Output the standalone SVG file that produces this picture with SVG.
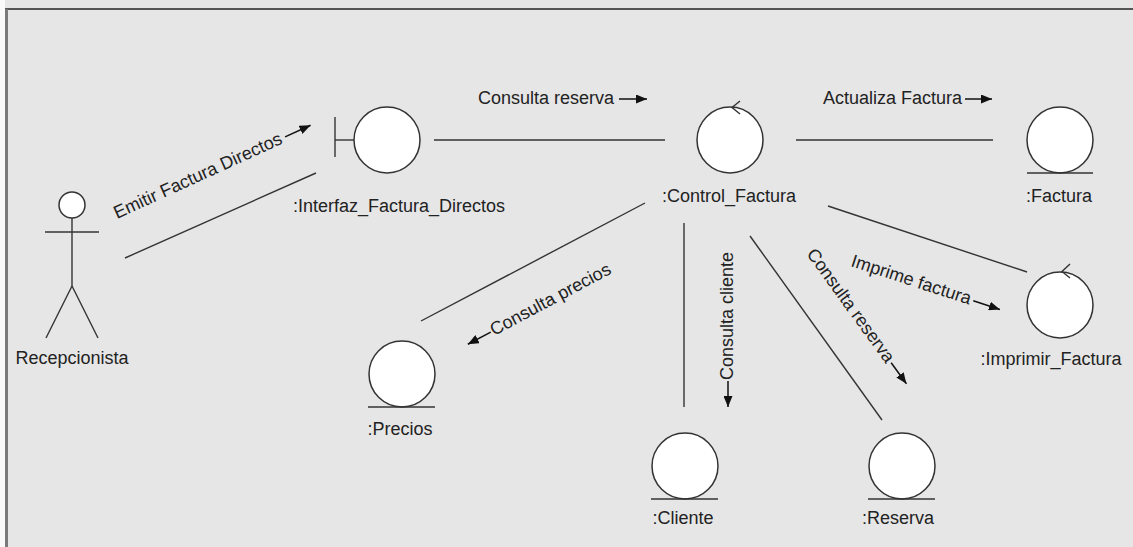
<svg xmlns="http://www.w3.org/2000/svg" width="1133" height="547" viewBox="0 0 1133 547">
<defs>
<marker id="ah" markerUnits="userSpaceOnUse" markerWidth="11" markerHeight="9" refX="11" refY="4.5" orient="auto">
<path d="M0,0 L11,4.5 L0,9 z" fill="#111"/>
</marker>
<style>
.t{font-family:"Liberation Sans",Arial,sans-serif;font-size:18px;fill:#222}
.m{text-anchor:middle}
.ln{stroke:#333;stroke-width:1.4;fill:none}
.sh{stroke:#333;stroke-width:1.5;fill:#fff}
.ar{stroke:#111;stroke-width:1.5;fill:none;marker-end:url(#ah)}
</style>
</defs>
<rect x="0" y="0" width="1133" height="547" fill="#e6e6e6"/>
<rect x="0" y="0" width="5" height="547" fill="#fafafa"/>
<line x1="5" y1="9" x2="1133" y2="9" stroke="#555" stroke-width="2"/>
<line x1="6.5" y1="9" x2="6.5" y2="547" stroke="#7a7a7a" stroke-width="3"/>

<g id="connectors">
<line class="ln" x1="125" y1="258" x2="316" y2="173"/>
<line class="ln" x1="434" y1="140" x2="665" y2="140"/>
<line class="ln" x1="796" y1="140" x2="993" y2="140"/>
<line class="ln" x1="828" y1="206" x2="1027" y2="272"/>
<line class="ln" x1="645" y1="203" x2="421" y2="321"/>
<line class="ln" x1="684" y1="223" x2="684" y2="407"/>
<line class="ln" x1="750" y1="236" x2="882" y2="420"/>

<g transform="translate(117,219) rotate(-24.5)">
<text class="t" x="0" y="0">Emitir Factura Directos</text>
<line class="ar" x1="187" y1="-5" x2="215" y2="-5"/>
</g>
<g>
<text class="t" x="478" y="104">Consulta reserva</text>
<line class="ar" x1="619" y1="99" x2="647" y2="99"/>
</g>
<g>
<text class="t" x="823" y="104">Actualiza Factura</text>
<line class="ar" x1="965" y1="99" x2="992" y2="99"/>
</g>
<g transform="translate(850,266) rotate(18)">
<text class="t" x="0" y="0">Imprime factura</text>
<line class="ar" x1="128" y1="-5" x2="156" y2="-5"/>
</g>
<g transform="translate(806,254) rotate(54)">
<text class="t" x="0" y="0">Consulta reserva</text>
<line class="ar" x1="138" y1="-5" x2="164" y2="-5"/>
</g>
<g transform="translate(733,380) rotate(-90)">
<text class="t" x="0" y="0">Consulta cliente</text>
<line class="ar" x1="-1" y1="-5" x2="-27" y2="-5"/>
</g>
<g transform="translate(494,336) rotate(-28)">
<text class="t" x="0" y="0">Consulta precios</text>
<line class="ar" x1="-1" y1="-5" x2="-27" y2="-5"/>
</g>
</g>

<g id="recepcionista">
<circle class="sh" cx="72" cy="205" r="13"/>
<line class="ln" x1="72" y1="218" x2="72" y2="286"/>
<line class="ln" x1="45" y1="232" x2="99" y2="232"/>
<line class="ln" x1="72" y1="286" x2="46" y2="338"/>
<line class="ln" x1="72" y1="286" x2="98" y2="338"/>
<text class="t m" x="72" y="364">Recepcionista</text>
</g>

<g id="interfaz_factura_directos">
<circle class="sh" cx="387" cy="140" r="33"/>
<line class="ln" x1="335" y1="117" x2="335" y2="157"/>
<line class="ln" x1="335" y1="140" x2="354" y2="140"/>
<text class="t m" x="399" y="212">:Interfaz_Factura_Directos</text>
</g>

<g id="control_factura">
<circle class="sh" cx="730" cy="140" r="33"/>
<path class="ln" d="M740,101 L732,107.5 L740,114"/>
<text class="t m" x="729" y="202">:Control_Factura</text>
</g>

<g id="factura">
<circle class="sh" cx="1060" cy="140" r="33"/>
<line class="ln" x1="1027" y1="173" x2="1093" y2="173"/>
<text class="t m" x="1059" y="202">:Factura</text>
</g>

<g id="imprimir_factura">
<circle class="sh" cx="1060" cy="305" r="33"/>
<path class="ln" d="M1070,264 L1062,271.5 L1070,278"/>
<text class="t m" x="1051" y="365">:Imprimir_Factura</text>
</g>

<g id="precios">
<circle class="sh" cx="402" cy="374" r="33"/>
<line class="ln" x1="368" y1="407" x2="435" y2="407"/>
<text class="t m" x="400" y="435">:Precios</text>
</g>

<g id="cliente">
<circle class="sh" cx="685" cy="466" r="33"/>
<line class="ln" x1="651" y1="499" x2="718" y2="499"/>
<text class="t m" x="683" y="524">:Cliente</text>
</g>

<g id="reserva">
<circle class="sh" cx="902" cy="466" r="33"/>
<line class="ln" x1="868" y1="499" x2="935" y2="499"/>
<text class="t m" x="898" y="524">:Reserva</text>
</g>
</svg>
